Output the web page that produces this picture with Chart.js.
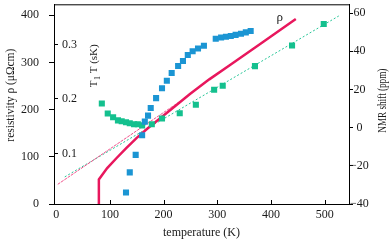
<!DOCTYPE html>
<html>
<head>
<meta charset="utf-8">
<script src="https://cdn.jsdelivr.net/npm/chart.js@4"></script>
<style>
  html, body { margin: 0; padding: 0; background: #fff; }
</style>
</head>
<body>
<canvas id="chart" width="392" height="242"></canvas>
<script>
// temperature (K) of the blue squares, T1T (sK)
const blueTemp = [130, 137, 148, 160, 165, 171, 176, 186, 197, 206, 215, 227, 236, 245, 254, 264, 275, 297, 307, 316, 325, 334, 344, 353, 362];
const blueT1T = [0.027, 0.064, 0.096, 0.132, 0.157, 0.168, 0.182, 0.200, 0.218, 0.232, 0.246, 0.259, 0.268, 0.279, 0.286, 0.291, 0.296, 0.309, 0.311, 0.3125, 0.314, 0.316, 0.318, 0.3205, 0.323];

// green squares, NMR shift (ppm)
const greenTemp = [85, 96, 106, 115, 122, 130, 137, 145, 152, 160, 178, 197, 230, 260, 294, 310, 370, 439, 498];
const greenShift = [12.6, 7.4, 5.4, 3.8, 3.3, 2.8, 2.3, 1.8, 1.8, 1.2, 1.8, 4.8, 7.5, 12.0, 19.8, 21.9, 32.2, 43.0, 54.3];

// resistivity curve
const rhoTemp = [79.5, 79.5, 95, 113, 130, 150, 170, 193, 220, 249, 285, 323, 385, 446];
const rhoValues = [0, 52, 76, 98, 118, 140, 160, 181, 206, 233, 264, 294, 343, 392];

// linear fits
const rhoFitTemp = [3, 230];
const rhoFitValues = [41.7, 217];
const shiftFitTemp = [16, 526];
const shiftFitValues = [-25.8, 58.5];

// tick labels
const xTicks = [0, 100, 200, 300, 400, 500];
const rhoTicks = [0, 100, 200, 300, 400];
const shiftTicks = [-40, -20, 0, 20, 40, 60];
const t1tTicks = [0.1, 0.2, 0.3];

const serif = "'Liberation Serif', 'Times New Roman', serif";
Chart.defaults.font.family = serif;
Chart.defaults.color = '#1a1a1a';

function pts(xs, ys) {
  return xs.map((x, i) => ({x: x, y: ys[i]}));
}

// fixed box sizes so the plot area lands where it is in the figure
function fixBox(w, h) {
  return s => {
    if (w !== null) s.width = w;
    if (h !== null) s.height = h;
    s.paddingTop = s.paddingBottom = s.paddingLeft = s.paddingRight = 0;
  };
}

const decor = {
  id: 'decor',
  afterDraw(chart) {
    const {ctx, chartArea: a, scales} = chart;
    ctx.save();
    ctx.strokeStyle = '#000';
    ctx.lineWidth = 1;
    // top of the frame
    ctx.beginPath();
    ctx.moveTo(a.left, a.top + 0.5);
    ctx.lineTo(a.right, a.top + 0.5);
    ctx.stroke();
    // temperature ticks point inwards
    xTicks.forEach(v => {
      if (v === 0) return;
      const px = Math.round(scales.x.getPixelForValue(v)) + 0.5;
      ctx.beginPath();
      ctx.moveTo(px, a.bottom);
      ctx.lineTo(px, a.bottom - 4);
      ctx.stroke();
    });
    // inner T1T axis
    ctx.fillStyle = '#1a1a1a';
    ctx.font = '12px ' + serif;
    ctx.textAlign = 'left';
    ctx.textBaseline = 'middle';
    t1tTicks.forEach(v => {
      const py = Math.round(scales.yT1.getPixelForValue(v)) + 0.5;
      ctx.beginPath();
      ctx.moveTo(a.left, py);
      ctx.lineTo(a.left + 4, py);
      ctx.stroke();
      ctx.fillText(v.toFixed(1), a.left + 8, py);
    });

    // T1 T (sK) title
    ctx.save();
    ctx.translate(a.left + 43, a.top + 83);
    ctx.rotate(-Math.PI / 2);
    ctx.textBaseline = 'alphabetic';
    ctx.font = '11px ' + serif;
    ctx.fillText('T', 0, 0);
    let w = ctx.measureText('T').width;
    ctx.font = '8px ' + serif;
    ctx.fillText('1', w + 0.5, 3);
    w += ctx.measureText('1').width + 0.5;
    ctx.font = '11px ' + serif;
    ctx.fillText(' T (sK)', w, 0);
    ctx.restore();

    // axis titles reading bottom to top
    ctx.font = '12px ' + serif;
    ctx.textAlign = 'center';
    ctx.textBaseline = 'middle';
    const mid = (a.top + a.bottom) / 2;
    ctx.save();
    ctx.translate(a.left - 43, mid - 9);
    ctx.rotate(-Math.PI / 2);
    ctx.fillText('resistivity ρ (μΩcm)', 0, 0, 93);
    ctx.restore();
    ctx.save();
    ctx.translate(a.right + 34, mid - 3.5);
    ctx.rotate(-Math.PI / 2);
    ctx.fillText('NMR shift (ppm)', 0, 0, 64);
    ctx.restore();

    // rho label next to the curve
    ctx.font = '13px ' + serif;
    ctx.fillText('ρ', scales.x.getPixelForValue(416), scales.yRho.getPixelForValue(394));
    ctx.restore();
  }
};

new Chart(document.getElementById('chart'), {
  type: 'scatter',
  data: {
    datasets: [
      {
        data: pts(blueTemp, blueT1T),
        yAxisID: 'yT1',
        pointStyle: 'rect',
        pointRadius: 4.3,
        pointBorderWidth: 0,
        backgroundColor: '#1b95d3'
      },
      {
        data: pts(greenTemp, greenShift),
        yAxisID: 'yNmr',
        pointStyle: 'rect',
        pointRadius: 4.3,
        pointBorderWidth: 0,
        backgroundColor: '#14c08e'
      },
      {
        data: pts(rhoTemp, rhoValues),
        yAxisID: 'yRho',
        showLine: true,
        pointRadius: 0,
        borderColor: '#e8175d',
        borderWidth: 2.5
      },
      {
        data: pts(rhoFitTemp, rhoFitValues),
        yAxisID: 'yRho',
        showLine: true,
        pointRadius: 0,
        borderColor: '#f0508a',
        borderWidth: 1,
        borderDash: [3, 1]
      },
      {
        data: pts(shiftFitTemp, shiftFitValues),
        yAxisID: 'yNmr',
        showLine: true,
        pointRadius: 0,
        borderColor: '#25c596',
        borderWidth: 1,
        borderDash: [2, 2]
      }
    ]
  },
  options: {
    responsive: false,
    animation: false,
    layout: { padding: { left: 21, right: 23, top: 1, bottom: 0 } },
    plugins: { legend: { display: false }, tooltip: { enabled: false } },
    scales: {
      x: {
        type: 'linear',
        position: 'bottom',
        min: -4,
        max: 545,
        afterBuildTicks: s => { s.ticks = xTicks.map(v => ({value: v})); },
        afterFit: fixBox(null, 38),
        grid: { display: false, drawTicks: false },
        border: { display: true, color: '#000', width: 1 },
        ticks: { padding: 4, font: { size: 12 } },
        title: { display: true, text: 'temperature (K)', font: { size: 12 }, padding: { top: 3.4, bottom: 1.8 } }
      },
      yRho: {
        position: 'left',
        weight: 1,
        min: 0,
        max: 423,
        afterBuildTicks: s => { s.ticks = rhoTicks.map(v => ({value: v})); },
        afterFit: fixBox(33, null),
        grid: { drawOnChartArea: false, drawTicks: true, tickLength: 5, color: '#000' },
        border: { display: true, color: '#000', width: 1 },
        ticks: { padding: 10, font: { size: 12 } }
      },
      yNmr: {
        position: 'right',
        min: -40,
        max: 64.6,
        afterBuildTicks: s => { s.ticks = shiftTicks.map(v => ({value: v})); },
        afterFit: fixBox(20, null),
        grid: { drawOnChartArea: false, drawTicks: true, tickLength: 4, color: '#000' },
        border: { display: true, color: '#000', width: 1 },
        ticks: {
          padding: -3,
          crossAlign: 'center',
          font: { size: 12 },
          callback: v => v < 0 ? '\u2212' + Math.abs(v) : String(v)
        }
      },
      yT1: {
        display: false,
        min: 0.006,
        max: 0.372,
        afterFit: fixBox(0, null)
      }
    }
  },
  plugins: [decor]
});
</script>
</body>
</html>
